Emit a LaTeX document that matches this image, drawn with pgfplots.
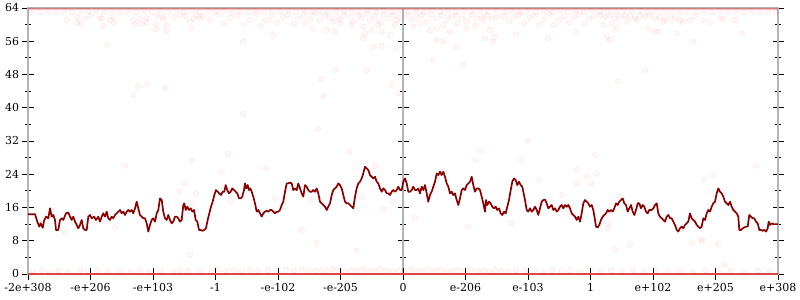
\documentclass[border=0pt]{standalone}
\usepackage{pgfplots}
\pgfplotsset{compat=1.18}
\usepackage{fontspec}
\setmainfont{DejaVu Serif}
\definecolor{lineclr}{RGB}{140,0,0}
\definecolor{axclr}{RGB}{180,180,180}
\definecolor{botclr}{RGB}{228,60,60}
\pgfplotsset{
  common/.style={
    at={(0,0)}, anchor=south west,
    scale only axis, width=750bp, height=266bp,
    ymin=0, ymax=64,
    ytick={0,8,...,64}, minor y tick num=1,
    tick align=center,
    major tick length=11bp, minor tick length=6bp,
    every tick/.style={black, line width=0.8bp},
    axis line style={axclr, line width=2.5bp, -},
    tick label style={font=\fontsize{11}{13}\selectfont},
    /pgf/number format/assume math mode=true,
  },
  dots/.style={only marks, mark=*, mark size=2.8bp,
    mark options={fill=red, fill opacity=0.03, draw=red, draw opacity=0.07, line width=0.5bp}},
}
\begin{document}
\begin{tikzpicture}
\path[use as bounding box] (-28bp,-26bp) rectangle (772bp,274bp);
% centre vertical axis
\begin{axis}[common,
  xmin=-375, xmax=375,
  axis y line=center, axis x line=none,
  yticklabels={},
  every inner y axis line/.append style={-},
]
\addplot[draw=none] coordinates {(0,0)};
\end{axis}
% main axis
\begin{axis}[common,
  xmin=0, xmax=750,
  xtick={0,62.5,125,187.5,250,312.5,375,437.5,500,562.5,625,687.5,750},
  xticklabels={-2e+308,-e+206,-e+103,-1,-e-102,-e-205,0,e-206,e-103,1,e+102,e+205,e+308},
  xtick pos=left, ytick pos=both,
  yticklabel pos=left,
  clip=false,
]
% scatter: top band and scattered points
\addplot[dots] table {
38.7 61.1
49.3 61.9
49.3 60.5
53 60.2
57 61.5
62.7 62.2
72 61.5
75.3 59.7
73.7 61.5
82 61.1
84.7 61.9
86 60.5
79.3 55.1
105.3 61.1
107 60.2
112 61.5
113.7 60.2
118.7 60.5
118.7 61.5
127 60.2
128 58.9
128.7 62.1
133.7 61.9
135.3 61.5
138 59.9
138.7 58.3
146 61.9
152 62.3
157 62.1
162 60.7
163.7 59.1
165.3 61.5
168.7 62.3
171.3 61.5
105.3 43.1
110.3 45.2
119.3 45.6
137 44.8
175 62.0
182 61.0
190 62.4
196 60.4
203 61.6
210 62.2
216 60.0
222 61.2
228 62.6
233 59.6
238 61.0
244 62.0
249 60.6
255 61.8
260 62.4
266 60.2
270 61.4
215 56.0
245 57.5
275.3 62.3
282 61.5
287 62.7
292 61.1
297 62.3
302 61.5
305.3 60.7
308.7 61.9
312 61.1
315.3 62.3
322 61.9
325.3 60.7
330.3 62.3
333.7 61.5
338.7 62.7
342 61.1
347 61.9
352 60.7
355.3 62.3
360.3 61.5
365.3 62.3
368.7 61.1
277 60.3
285.3 59.1
298.7 58.7
307 58.3
312 60.3
323.7 59.9
335.3 59.5
337 57.9
343.7 58.7
350.3 59.9
353.7 58.3
362 57.5
367 59.9
372 61.5
378.7 62.3
383.7 61.1
388.7 61.9
393.7 62.3
398.7 60.7
403.7 62.3
408.7 61.5
413.7 62.3
418.7 61.1
423.7 61.9
428.7 62.3
433.7 61.5
438.7 60.7
443.7 62.3
448.7 61.5
453.7 61.9
458.7 62.3
463.7 61.5
468.7 61.9
385.3 59.5
392 60.3
402 58.7
408.7 59.1
415.3 59.9
422 58.3
428.7 60.3
438.7 59.1
447 59.9
455.3 61.1
462 58.7
467 57.1
457 56.7
465.3 55.9
408.7 56.3
415.3 55.9
428.7 54.7
405.3 51.5
435.3 50.3
307 49.1
338.7 49.1
363.7 45.5
370.3 43.5
295.3 42.7
293.7 46.8
335.3 56.7
345.3 54.7
353.7 54.9
368.7 54.3
476 62.0
481 60.8
486 61.8
491 62.4
496 60.4
501 61.6
506 62.2
511 60.0
516 61.2
521 62.6
526 59.8
531 61.0
536 62.0
541 60.6
546 61.8
551 62.4
556 60.2
561 61.4
566 62.0
488 57.6
520 56.8
548 58.2
572 62.3
577 61.9
582 62.3
587 61.5
592 61.9
597 62.3
602 61.9
607 61.5
612 62.3
617 61.9
622 62.3
627 61.5
632 61.9
637 61.1
642 61.9
647 61.5
652 61.1
655.3 60.7
662 61.1
667 61.9
675.3 61.1
682 60.7
692 61.5
695.3 61.3
707 61.1
575.3 59.9
583.7 60.3
588.7 59.1
598.7 60.7
608.7 61.1
620.3 59.1
627 58.3
630.3 58.3
635.3 60.7
648.7 57.9
665.3 55.9
578.7 57.1
582 56.3
617 49.1
590.3 46.3
713.7 57.9
164 27.3
200 28.9
157 21.7
151 19.8
168 19.5
193.7 24.4
238 25.4
202 17.4
165 17.0
97 26.1
37 9.9
87 11.2
321.3 29.4
347 26.0
247 18.2
282.7 17.8
333.7 18.4
355.3 15.6
273.7 10.6
365.3 17.4
452 29.8
447 27.4
493.7 27.4
387 13.4
440.3 11.4
483.7 12.2
567 28.6
548.7 25.0
558.7 23.4
568.7 24.2
548.7 21.8
563.7 21.8
511 22.6
534.3 19.0
591.3 18.6
580.3 12.2
580.3 11.0
728.7 26.1
685.3 23.6
676.3 22.6
673.7 8.3
288.7 7.5
328.7 5.6
587 5.8
602 7.0
663.7 7.4
673.7 7.8
690.3 7.4
697 2.2
162 4.6
215 38.5
290 35.0
500 32.0
};
% dense band of points at the very top
\addplot[dots] table {
4 63.4
12 63.0
20 63.5
28 63.1
36 63.4
44 63.0
52 63.5
60 63.2
68 63.4
76 63.0
84 63.5
92 63.1
100 63.4
108 63.0
116 63.5
124 63.2
132 63.4
140 63.0
148 63.5
156 63.1
164 63.4
172 63.0
180 63.5
188 63.2
196 63.4
204 63.0
212 63.5
220 63.1
228 63.4
236 63.0
244 63.5
252 63.2
260 63.4
268 63.0
276 63.5
284 63.1
292 63.4
300 63.0
308 63.5
316 63.2
324 63.4
332 63.0
340 63.5
348 63.1
356 63.4
364 63.0
372 63.5
380 63.2
388 63.4
396 63.0
404 63.5
412 63.1
420 63.4
428 63.0
436 63.5
444 63.2
452 63.4
460 63.0
468 63.5
476 63.1
484 63.4
492 63.0
500 63.5
508 63.2
516 63.4
524 63.0
532 63.5
540 63.1
548 63.4
556 63.0
564 63.5
572 63.2
580 63.4
588 63.0
596 63.5
604 63.1
612 63.4
620 63.0
628 63.5
636 63.2
644 63.4
652 63.0
660 63.5
668 63.1
676 63.4
684 63.0
692 63.5
700 63.2
708 63.4
716 63.0
724 63.5
732 63.1
740 63.4
748 63.0
};
% scatter: bottom band
\addplot[dots] table {
5 0.6
14 0.9
22 0.4
31 0.8
40 0.5
52 1.0
60 0.6
70 0.9
80 0.5
92 0.8
103 0.6
112 1.1
121 0.5
133 0.8
145 0.6
152 1.0
160 0.7
172 0.9
183 0.5
190 1.2
198 0.7
206 0.9
214 0.6
222 1.0
230 0.7
240 0.9
250 0.6
258 1.0
266 0.8
274 1.1
280 0.6
287 0.9
293 1.0
299 0.7
305 1.1
311 0.8
317 0.6
323 1.0
329 0.8
335 1.1
341 0.7
347 0.9
353 1.0
359 0.8
365 0.6
371 1.0
377 0.8
383 1.1
389 0.7
395 0.9
401 1.0
407 0.8
413 1.1
419 0.6
425 0.9
431 1.0
437 0.7
443 1.1
449 0.8
455 0.9
461 0.6
467 1.0
473 0.8
480 0.6
488 1.0
497 0.7
506 0.9
515 0.5
524 1.0
533 0.7
542 0.9
552 0.6
562 1.0
572 0.7
583 0.9
594 0.6
605 1.0
616 0.7
628 0.9
640 0.6
652 0.8
665 0.5
678 0.9
690 0.6
703 0.8
716 0.5
730 0.8
742 0.6
};
% dense bands at 0 and 64
\addplot[botclr, line width=2.6bp, opacity=0.9] coordinates {(0,0) (750,0)};
\addplot[red, line width=2bp, opacity=0.25] coordinates {(0,63.8) (750,63.8)};
% main line
\addplot[lineclr, line width=1.7bp, line join=round] table {
0 14.4
7 14.4
9.3 12.6
11.3 11.4
12.7 12.2
14.7 11.1
16 12.8
18 13.8
20.3 13.4
22 15.8
23.7 13.8
25.3 14.2
27 13.0
28 10.6
30.3 10.6
32 13.0
33.7 13.4
35.3 13.0
38 14.6
40.3 14.8
42 13.8
43.7 13.0
45.3 13.8
47 12.6
48.7 11.8
50.3 11.0
52 11.8
53.7 13.0
55.3 11.0
57 10.6
58.7 10.6
60.3 13.8
62 14.2
63.7 13.4
66 13.8
68 13.0
70.3 13.8
72 12.6
73.7 13.8
75.3 14.6
77 13.8
78.7 15.0
80.3 13.4
82 13.0
83.7 13.8
85.3 13.4
87 14.2
88.7 14.6
90.3 15.0
92 15.4
93.7 14.6
95.3 15.0
97 14.2
98.7 15.0
100.3 15.4
102 15.0
103.7 15.4
105.3 14.6
107 15.8
108.7 17.4
110.3 15.8
112 14.2
113.7 13.8
115.3 13.4
117 13.4
118.7 12.2
120.3 10.2
122 11.8
123.7 13.0
125.3 13.4
127 12.6
128.7 14.6
130.3 15.4
132 18.2
133.7 17.8
135.3 15.0
137 13.4
138.7 13.0
140.3 14.2
142 13.0
143.7 12.2
145.3 12.6
147 13.8
148.7 13.8
150.3 13.4
152 12.6
153.7 13.0
155.3 16.6
156.3 17.0
157.7 15.4
159.3 16.2
161 15.4
162.7 15.8
164.3 15.0
166 15.4
167.7 13.0
169.3 12.6
171 10.6
172.7 10.6
174.3 10.4
176.3 10.6
178 11.0
179.7 13.0
181.3 14.6
183 16.2
184.7 17.4
186.3 19.0
188 20.2
189.7 19.8
191.3 19.4
193 19.0
194.7 19.8
196.3 19.8
197.7 21.4
199.3 20.2
201 19.4
202.7 19.8
204.3 20.6
206 20.2
207.7 19.8
209.3 19.4
211 18.2
212.7 18.2
214.3 18.6
216 20.2
217 21.8
218.3 20.6
219.7 21.4
221 20.2
222.3 20.6
223.7 19.8
225.3 18.6
227 17.0
228.7 15.0
230.3 15.4
232 14.6
233.7 13.8
235.3 14.6
237 15.0
238.7 15.2
240.3 15.0
242 15.4
243.7 15.4
245.3 15.0
247 14.6
248.7 15.0
250.3 15.0
252 15.4
253.7 16.6
255.3 17.4
257 19.8
258.7 21.8
260.3 21.8
262 22.0
263.7 21.8
265.3 20.2
267 20.6
268.7 20.2
270.3 21.8
272 20.6
273.7 19.4
275.3 18.6
277 21.4
278.7 21.0
280.3 20.2
282 19.8
283.7 19.8
285.3 20.2
287 19.8
288.7 20.6
290.3 19.4
292 17.4
293.7 17.0
295.3 16.6
297 16.2
298.7 15.4
300.3 16.2
302 17.0
303.7 19.0
305.3 20.2
307 20.6
308.7 21.0
310.3 21.8
312 21.4
313.7 20.6
315.3 19.0
317 17.4
318.7 17.0
320.3 17.0
322 16.6
323.7 16.2
325.3 15.8
327 18.6
328.7 20.6
330.3 21.8
332 22.2
333.7 23.0
335.3 24.2
337 25.8
338.7 25.4
340.3 25.0
342 23.8
343.7 23.4
345.3 23.0
347 23.4
348.7 22.2
350.3 21.8
352 20.6
353.7 19.8
355.3 20.6
357 20.2
358.7 19.4
360.3 19.4
362 19.0
363.7 19.8
365.3 20.2
367 19.8
368.7 20.2
370.3 21.0
372 20.2
373.7 20.2
375.3 22.2
377 23.0
378.7 21.8
380.3 19.8
382 19.8
383.7 20.2
385.3 21.0
387 20.2
388.7 20.2
390.3 20.6
392 19.4
393.7 21.0
395.3 20.2
397 21.4
398.7 19.4
400.3 17.4
402 19.0
403.7 19.8
405.3 21.0
407 22.2
408.7 24.2
410.3 23.8
412 24.6
413.7 23.8
415.3 24.6
417 23.4
418.7 21.8
420.3 21.0
422 19.4
423.7 19.8
425.3 19.0
427 19.4
428.7 17.8
430.3 16.6
432 18.2
433.7 20.2
435.3 20.6
437 20.2
438.7 21.4
440.3 21.8
442 22.2
443.7 23.4
445.3 21.4
447 19.8
448.7 20.6
450.3 20.6
452 20.2
453.7 18.6
455.3 17.0
457 15.0
458 17.8
459.3 16.6
461 17.4
462.7 17.0
464.3 16.2
466 15.8
467.7 16.2
469.3 15.4
471 15.8
472.7 14.6
474.3 14.2
476 15.0
477.7 14.6
479.3 16.2
481 17.8
482.7 20.2
484.3 22.2
486 23.0
487.7 22.6
489.3 21.4
491 22.2
492.7 21.4
494.3 21.0
497 17.8
498.7 15.4
500.3 15.0
502 15.8
503.7 15.0
505.3 15.4
507 16.2
508.7 15.4
510.3 14.2
512 15.8
513.7 17.4
515.3 17.8
517 17.9
518.7 17.0
520.3 15.8
522 16.2
523.7 16.6
525.3 15.4
527 15.8
528.7 15.0
530.3 15.4
532 16.2
533.7 16.6
535.3 15.8
537 16.6
538.7 16.2
540.3 16.6
542 15.8
543.7 14.6
545.3 14.2
547 13.8
548.7 13.0
550.3 13.8
552 12.6
553.7 14.6
555.3 17.0
557 17.8
558.7 17.4
560.3 17.0
562 16.2
563.7 16.6
565.3 15.4
567 13.0
568 11.4
569.7 11.2
571.3 11.8
573 13.0
574.7 13.8
576.3 14.2
578 14.6
579.7 15.4
581.3 15.0
583 15.4
584.7 15.0
586.3 15.8
588 17.0
589.7 16.6
591.3 17.4
593 17.8
594.7 18.2
596.3 17.0
598 16.6
599.7 15.0
601.3 15.8
603 16.6
604.7 15.0
606.3 14.2
608 15.4
609.7 17.0
611.3 17.0
613 15.8
614.7 16.6
616.3 16.2
618 15.0
619.7 14.6
621.3 15.4
623.7 15.4
625.3 15.8
627 16.6
628.7 17.0
630.3 14.6
632 13.8
633.7 13.4
635.3 13.0
637 12.6
638.7 13.8
640.3 14.2
642 13.4
643.7 13.4
645.3 12.6
647 11.8
648.7 10.6
650.3 10.2
652 11.0
653.7 11.4
655.3 11.0
657 11.8
658.7 12.2
660.3 12.6
662 14.6
663.7 13.4
665.3 13.0
667 12.6
668.7 11.8
670.3 11.4
672 11.0
673.7 11.4
675.3 13.4
677 13.0
678.7 14.6
680.3 15.4
682 15.0
683.7 16.2
685.3 17.0
687 17.4
688.7 19.4
690.3 20.6
692 19.8
693.7 19.4
695.3 18.6
697 17.4
698.7 17.0
700.3 16.6
702 17.4
703.7 16.2
705.3 15.4
707 15.0
708.7 14.6
710.3 13.8
711.3 10.6
713 10.6
714.7 11.0
716.3 11.2
718 11.4
719.7 11.4
721.3 14.2
723 13.8
724.7 13.4
726.3 13.4
728 12.6
729.7 12.2
731.3 10.6
733 10.6
734.7 10.4
736.3 10.6
738 10.2
739.7 11.0
740.7 12.6
742 11.8
743.7 12.2
745.3 12.0
747 12.0
750 12.0
};
\end{axis}
\end{tikzpicture}
\end{document}
